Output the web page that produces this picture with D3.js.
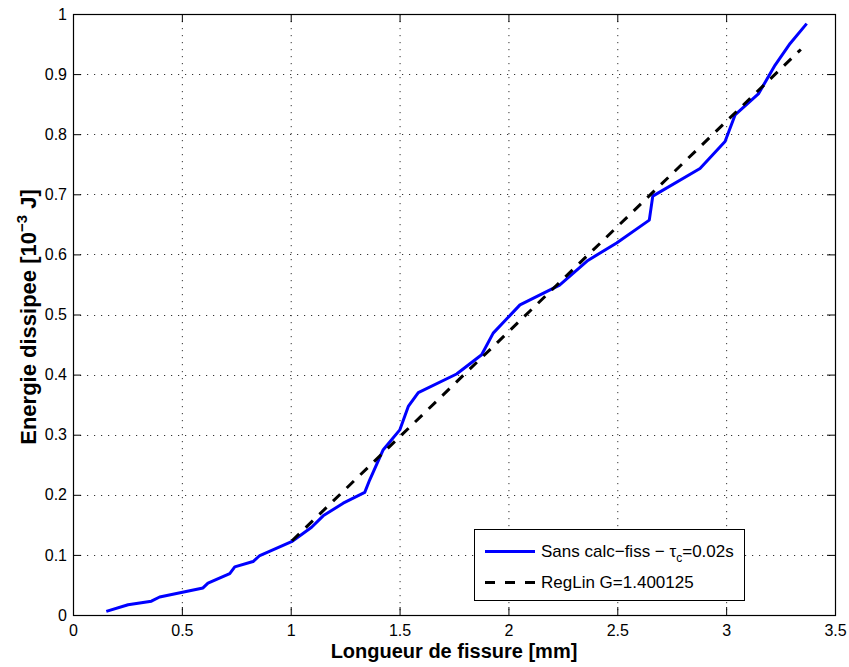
<!DOCTYPE html>
<html><head><meta charset="utf-8">
<script src="https://cdn.jsdelivr.net/npm/d3@7"></script>
<style>body{margin:0;background:#fff}svg{display:block}text{font-family:"Liberation Sans",Arial,Helvetica,sans-serif}</style>
</head><body>
<svg id="c" width="849" height="667"></svg>
<script>
const crackX = [0.153,0.253,0.360,0.398,0.597,0.620,0.720,0.743,0.827,0.858,1.004,1.096,1.149,1.241,1.340,1.363,1.425,1.501,1.540,1.586,1.762,1.877,1.930,2.053,2.235,2.365,2.497,2.647,2.663,2.880,2.995,3.041,3.148,3.225,3.294,3.370];
const energyY = [0.006,0.017,0.023,0.030,0.045,0.053,0.069,0.080,0.089,0.099,0.122,0.146,0.165,0.186,0.204,0.225,0.275,0.308,0.347,0.370,0.401,0.433,0.469,0.516,0.549,0.590,0.619,0.657,0.697,0.743,0.788,0.832,0.867,0.915,0.951,0.984];
const regX = [1.006,3.343];
const regY = [0.1235,0.941];
const xTicks = [0,0.5,1,1.5,2,2.5,3,3.5];
const xTickLabels = ["0","0.5","1","1.5","2","2.5","3","3.5"];
const yTicks = [0,0.1,0.2,0.3,0.4,0.5,0.6,0.7,0.8,0.9,1];
const yTickLabels = ["0","0.1","0.2","0.3","0.4","0.5","0.6","0.7","0.8","0.9","1"];
const legendLabels = ["Sans calc−fiss − τ","RegLin G=1.400125"];

const L=73,R=835,T=14,B=615;
const svg=d3.select("#c");
const x=d3.scaleLinear().domain([0,3.5]).range([L,R]);
const y=d3.scaleLinear().domain([0,1]).range([B,T]);

// grid
const g=svg.append("g");
g.selectAll(".gx").data(xTicks.filter(v=>v>0&&v<3.5)).join("line")
 .attr("x1",d=>x(d)+0.5).attr("x2",d=>x(d)+0.5).attr("y1",T).attr("y2",B)
 .attr("stroke","#333").attr("stroke-width",1).attr("stroke-dasharray","1.2,5.8");
g.selectAll(".gy").data(yTicks.filter(v=>v>0&&v<1)).join("line")
 .attr("y1",d=>Math.round(y(d))+0.5).attr("y2",d=>Math.round(y(d))+0.5).attr("x1",L).attr("x2",R)
 .attr("stroke","#333").attr("stroke-width",1).attr("stroke-dasharray","1.2,5.8");

// axes with inward ticks
const tl=8;
const fmtX=(d,i)=>xTickLabels[i], fmtY=(d,i)=>yTickLabels[i];
function styleAx(sel){sel.select(".domain").remove();sel.selectAll("line").attr("stroke","#000");sel.selectAll("text").attr("font-size","16px").attr("fill","#000");}
svg.append("g").attr("transform",`translate(0,${B})`).call(d3.axisBottom(x).tickValues(xTicks).tickFormat(fmtX).tickSizeInner(-tl).tickSizeOuter(0).tickPadding(10)).call(styleAx);
svg.append("g").attr("transform",`translate(0,${T})`).call(d3.axisTop(x).tickValues(xTicks).tickFormat("").tickSizeInner(-tl).tickSizeOuter(0)).call(styleAx);
svg.append("g").attr("transform",`translate(${L},0)`).call(d3.axisLeft(y).tickValues(yTicks).tickFormat(fmtY).tickSizeInner(-tl).tickSizeOuter(0).tickPadding(6)).call(styleAx);
svg.append("g").attr("transform",`translate(${R},0)`).call(d3.axisRight(y).tickValues(yTicks).tickFormat("").tickSizeInner(-tl).tickSizeOuter(0)).call(styleAx);
svg.append("rect").attr("x",L+0.5).attr("y",T+0.5).attr("width",R-L).attr("height",B-T).attr("fill","none").attr("stroke","#000").attr("stroke-width",1.2);

// lines
const line=d3.line().x(d=>x(d[0])).y(d=>y(d[1]));
svg.append("path").datum(crackX.map((v,i)=>[v,energyY[i]])).attr("d",line)
 .attr("fill","none").attr("stroke","#0000ff").attr("stroke-width",3).attr("stroke-linejoin","round");
svg.append("path").datum(regX.map((v,i)=>[v,regY[i]])).attr("d",line)
 .attr("fill","none").attr("stroke","#000").attr("stroke-width",3).attr("stroke-dasharray","10,9");

// titles
svg.append("text").attr("x",(L+R)/2).attr("y",658).attr("text-anchor","middle")
 .attr("font-size","20px").attr("font-weight","bold").text("Longueur de fissure [mm]");
const yt=svg.append("text").attr("transform","translate(36,317) rotate(-90)").attr("text-anchor","middle")
 .attr("font-size","22px").attr("font-weight","bold");
yt.append("tspan").text("Energie dissipee [10");
yt.append("tspan").attr("font-size","15px").attr("dy",-9).text("−3");
yt.append("tspan").attr("dy",9).text(" J]");

// legend
const lg=svg.append("g");
lg.append("rect").attr("x",474.5).attr("y",529.5).attr("width",270).attr("height",71).attr("fill","#fff").attr("stroke","#000").attr("stroke-width",1);
lg.append("line").attr("x1",485).attr("x2",535).attr("y1",551.5).attr("y2",551.5).attr("stroke","#0000ff").attr("stroke-width",3);
lg.append("line").attr("x1",485).attr("x2",535).attr("y1",582.5).attr("y2",582.5).attr("stroke","#000").attr("stroke-width",3).attr("stroke-dasharray","10,10");
const t1=lg.append("text").attr("x",541).attr("y",557).attr("font-size","17px");
t1.append("tspan").text(legendLabels[0]);
t1.append("tspan").attr("font-size","12px").attr("dy",5).text("c");
t1.append("tspan").attr("dy",-5).text("=0.02s");
lg.append("text").attr("x",541).attr("y",588).attr("font-size","17px").text(legendLabels[1]);
</script>
</body></html>
